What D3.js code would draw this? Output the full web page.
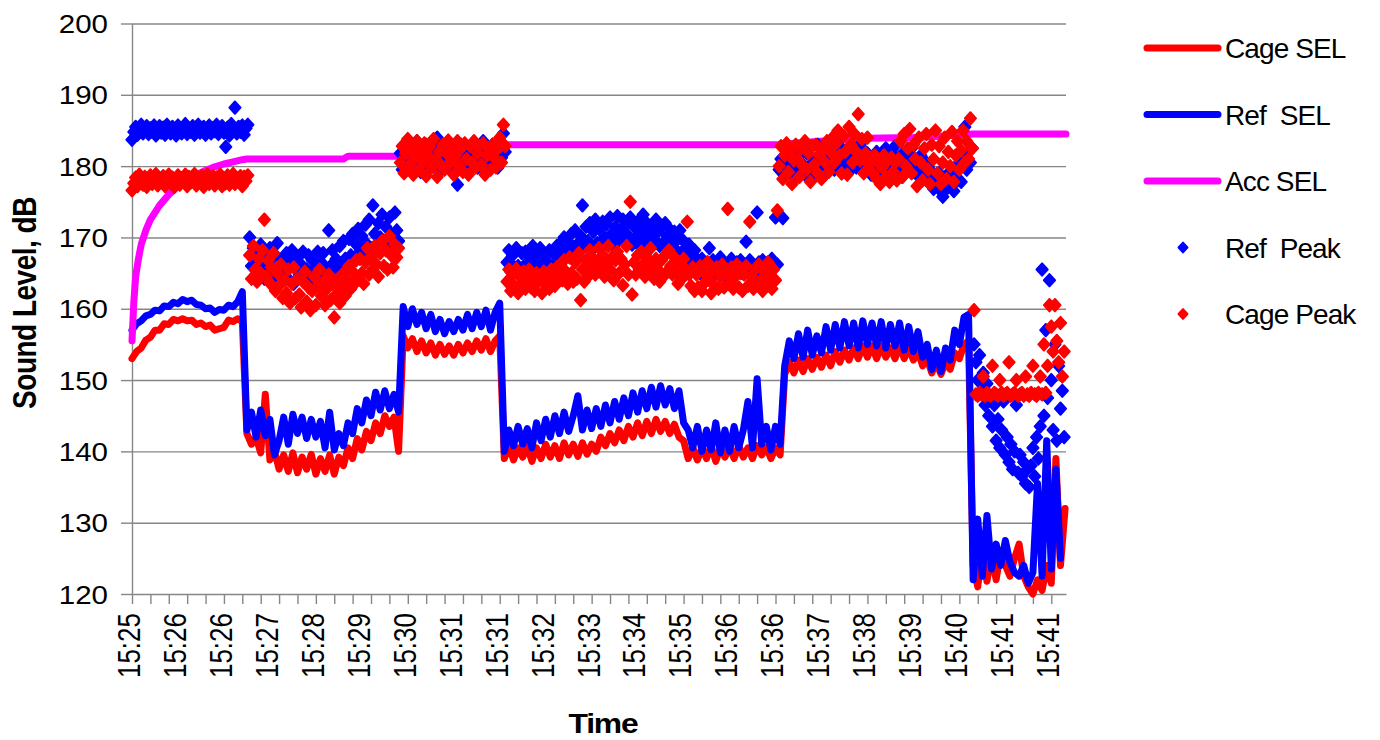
<!DOCTYPE html>
<html>
<head>
<meta charset="utf-8">
<script src="https://cdn.jsdelivr.net/npm/d3@7/dist/d3.min.js"></script>
<style>
  body { margin: 0; background: #fff; }
  text { font-family: Arial, "Liberation Sans", sans-serif; fill: #000; }
</style>
</head>
<body>
<div id="chart"></div>
<script>
// ---- data ----
// SEL lines: one value every 5 s
var selStep = 5;
var cageSel = [
  // 15:25 - 15:26
  153.0, 154.0, 154.5, 155.6, 156.0, 157.0, 157.0, 157.9, 157.8, 158.5, 158.3, 158.6, 158.3, 158.4, 157.8, 158.0, 157.5, 157.7, 157.0, 157.2, 157.4, 158.4, 158.2, 158.6, 158.2,
  // 15:27 - 15:29
  142.5, 141.0, 142.0, 139.8, 148.0, 138.8, 140.0, 137.5, 139.5, 137.2, 139.8, 137.0, 139.2, 137.5, 139.6, 136.8, 139.0,
  137.2, 139.5, 136.8, 139.2, 138.0, 140.5, 139.0, 141.8, 140.2, 142.8, 141.5, 144.0, 142.5, 145.0, 143.5, 144.8, 140.0,
  // 15:30 - 15:31
  156.2, 154.5, 155.8, 154.0, 155.5, 153.8, 155.2, 153.5, 155.0, 153.6, 154.8, 153.5, 155.0, 153.8, 155.2, 154.0, 155.5, 154.2, 155.8, 154.0, 155.5, 156.2,
  // 15:31 - 15:36
  139.0, 140.8, 138.8, 140.5, 139.2, 140.8, 138.6, 140.5, 139.0, 141.0, 139.2, 140.8, 139.0, 141.2, 139.5, 141.0, 139.3, 141.2, 139.6, 141.0,
  140.0, 142.0, 140.8, 142.5, 141.2, 143.0, 141.5, 143.5, 142.0, 144.0, 142.2, 144.2, 142.5, 144.5, 142.8, 144.2, 142.5, 143.8, 142.0, 141.5,
  139.0, 140.5, 138.8, 140.5, 139.0, 140.8, 138.6, 140.5, 139.2, 140.6, 139.0, 140.8, 139.2, 140.5, 139.0, 140.8, 139.5, 140.6, 139.0, 140.5, 139.5,
  // 15:36 - 15:40
  150.8, 152.5, 151.0, 152.8, 151.2, 153.0, 151.5, 153.2, 151.8, 153.5, 152.0, 154.0, 152.5, 154.2, 152.8, 154.5, 153.0, 154.8, 153.2, 154.8,
  153.0, 154.8, 153.2, 154.5, 153.0, 154.8, 153.0, 154.5, 152.8, 154.0, 152.0, 153.0, 151.0, 152.5, 150.8, 152.5, 151.5, 153.8, 153.0, 155.0, 155.5,
  // 15:40 - end
  124.0, 121.0, 126.5, 121.8, 125.5, 122.0, 126.0, 124.0, 122.5, 125.0, 127.0, 122.5, 121.0, 120.0, 122.0, 120.5, 124.0, 121.5, 139.0, 124.0, 132.0
];
var refSel = [
  157.0, 157.9, 158.3, 159.0, 159.2, 159.8, 159.7, 160.4, 160.3, 160.9, 160.7, 161.3, 161.0, 161.2, 160.6, 160.5, 160.0, 160.1, 159.5, 159.9, 159.8, 160.5, 160.3, 161.0, 162.4,
  143.0, 145.5, 142.0, 145.8, 142.2, 144.5, 139.5, 141.5, 144.8, 141.0, 145.2, 142.5, 144.8, 141.8, 144.5, 142.0, 144.2,
  140.5, 145.5, 140.2, 142.5, 140.8, 144.0, 142.5, 146.0, 144.0, 147.2, 145.0, 148.3, 145.8, 148.5, 146.0, 148.0, 145.5,
  160.3, 157.5, 160.0, 157.8, 159.5, 157.2, 159.2, 156.8, 158.5, 156.5, 158.2, 156.8, 158.5, 157.0, 159.2, 157.2, 159.5, 157.5, 159.8, 157.0, 159.5, 160.8,
  140.0, 143.0, 140.8, 143.5, 141.0, 143.2, 140.5, 144.0, 141.5, 144.5, 142.0, 145.0, 142.5, 145.5, 142.8, 145.0, 147.8, 143.0, 145.8, 143.2,
  146.0, 143.5, 146.5, 144.0, 147.0, 144.5, 147.5, 145.0, 148.2, 145.5, 148.5, 146.0, 149.0, 146.2, 149.2, 146.5, 148.8, 146.0, 148.5, 144.0,
  143.0, 140.5, 143.5, 140.0, 143.0, 140.2, 144.0, 139.8, 143.0, 140.0, 143.5, 140.5, 143.0, 147.0, 140.5, 150.2, 141.0, 143.5, 140.2, 143.5, 141.0,
  152.0, 155.5, 153.0, 156.5, 153.2, 157.0, 153.5, 156.2, 153.8, 157.5, 154.2, 157.8, 154.5, 158.2, 154.8, 158.0, 154.5, 158.3, 155.0, 158.0,
  154.8, 158.2, 154.5, 157.8, 154.8, 158.0, 154.2, 157.5, 154.0, 156.8, 153.2, 155.0, 151.5, 154.2, 151.2, 154.5, 152.8, 157.0, 155.0, 158.8, 159.2,
  122.0, 130.5, 122.5, 131.0, 123.5, 127.0, 124.0, 127.5, 124.5, 123.0, 122.5, 124.0, 121.5, 123.0, 135.5, 122.5, 141.5, 123.5, 137.5, 125.0, null
];
// accumulated SEL: seconds / dB
var accTime = [0, 2, 4, 7, 10, 15, 20, 30, 40, 50, 60, 70, 80, 90, 100, 110, 120, 125, 230, 235, 295, 320, 350, 380, 405, 705, 720, 760, 800, 850, 880, 900, 915, 1016];
var accSel  = [155.5, 161, 164.5, 167, 169, 171, 172.5, 174.5, 176, 177.2, 178.1, 178.8, 179.4, 179.9, 180.3, 180.6, 180.9, 181.0, 181.0, 181.4, 181.4, 181.9, 182.4, 182.8, 183.0, 183.0, 183.2, 183.6, 183.9, 184.0, 184.2, 184.4, 184.5, 184.5];

// peaks: one value every 2 s
var peakStep = 2;
var refPeak = [
  // 15:25 - 15:26
  183.7, 184.8, 185.5, 184.4, 185.2, 185.8, 184.6, 185.0, 185.6, 184.5,
  185.3, 184.8, 185.7, 184.3, 185.1, 185.6, 184.7, 185.4, 184.4, 185.8,
  185.0, 184.6, 185.5, 184.9, 184.3, 185.7, 185.2, 184.6, 185.4, 185.9,
  184.5, 185.1, 184.8, 185.6, 184.4, 185.3, 185.8, 184.7, 185.0, 185.5,
  184.4, 185.2, 185.7, 184.6, 185.3, 184.9, 185.8, 184.5, 185.1, 185.6,
  184.7, 182.7, 185.4, 184.3, 185.9, 185.0, 188.2, 184.6, 185.5, 184.8,
  185.7, 184.4, 185.3, 185.8,
  // 15:27 - 15:29
  170.0, 166.0, 168.5, 164.5, 167.2, 165.5, 169.0, 166.5, 164.2, 167.8,
  165.2, 168.5, 166.0, 164.0, 167.5, 169.2, 165.5, 163.8, 166.8, 165.0,
  167.8, 164.2, 166.5, 168.2, 163.5, 165.8, 167.2, 164.8, 166.2, 168.0,
  163.8, 165.5, 167.5, 164.5, 166.8, 163.2, 165.8, 168.0, 164.5, 166.5,
  167.8, 165.0, 163.5, 171.0, 166.0, 168.2, 164.8, 167.0, 165.5, 168.8,
  166.2, 169.5, 167.0, 165.8, 169.8, 167.5, 170.5, 166.8, 169.0, 171.2,
  168.0, 170.2, 167.5, 171.8, 169.0, 172.5, 168.5, 174.5, 170.5, 168.8,
  172.0, 170.0, 173.2, 169.2, 171.5, 168.5, 172.8, 170.5, 169.0, 173.5,
  171.0, 169.5,
  // 15:30 - 15:31
  181.8, 179.5, 182.8, 180.2, 183.2, 181.0, 179.8, 182.5, 180.5, 183.5,
  181.2, 179.2, 182.0, 180.8, 183.0, 179.6, 181.5, 182.8, 180.0, 182.2,
  184.0, 180.5, 179.5, 182.5, 181.2, 183.2, 179.8, 181.8, 180.2, 182.8,
  180.0, 177.4, 181.5, 183.0, 179.5, 182.2, 180.8, 179.2, 182.5, 181.0,
  183.2, 180.2, 179.8, 182.0, 181.5, 183.5, 180.5, 182.8, 179.5, 181.8,
  183.0, 180.8, 182.2, 179.8, 183.2, 181.2, 184.6, 182.0,
  // 15:31 - 15:36
  166.5, 168.2, 165.2, 167.5, 165.8, 168.5, 166.0, 164.8, 167.8, 165.5,
  168.0, 166.5, 165.0, 167.2, 168.8, 165.8, 167.5, 166.2, 168.5, 165.2,
  167.0, 164.8, 166.5, 168.2, 165.5, 167.8, 166.2, 168.8, 167.0, 169.2,
  167.8, 170.0, 168.2, 169.5, 167.5, 170.5, 168.5, 171.0, 169.0, 167.8,
  170.2, 174.5, 168.8, 171.5, 169.5, 172.0, 168.2, 170.8, 172.5, 169.2,
  171.2, 168.5, 172.2, 170.0, 171.8, 169.0, 172.8, 170.5, 168.8, 171.5,
  173.0, 169.8, 171.0, 172.5, 169.5, 171.8, 170.2, 172.8, 169.0, 171.5,
  170.0, 172.2, 168.8, 171.0, 173.2, 169.5, 172.0, 170.5, 168.5, 171.2,
  169.8, 172.5, 170.8, 168.8, 171.5, 169.2, 172.0, 170.2, 168.5, 171.0,
  169.5, 170.8, 168.2, 169.8, 171.0, 167.8, 169.5, 168.5, 167.2, 169.0,
  167.5, 166.0, 168.2, 165.5, 166.8, 165.0, 167.0, 165.8, 164.8, 166.5,
  168.5, 165.2, 166.8, 164.8, 166.2, 165.5, 167.2, 165.0, 166.5, 164.6,
  166.0, 165.2, 167.0, 165.8, 164.8, 166.5, 165.2, 166.8, 165.0, 166.2,
  169.4, 165.5, 166.8, 164.8, 166.0, 165.2, 173.5, 166.5, 165.0, 166.8,
  165.5, 164.8, 166.5, 165.2, 167.0, 165.8, 172.8, 166.2,
  // 15:36 - 15:40
  179.5, 181.0, 172.7, 180.5, 178.8, 181.5, 179.2, 182.0, 180.0, 178.5,
  181.2, 179.5, 182.2, 180.2, 178.8, 181.8, 179.5, 182.5, 180.5, 178.5,
  181.0, 183.0, 179.8, 182.2, 180.5, 178.8, 181.5, 183.2, 180.0, 182.5,
  179.5, 181.8, 180.2, 182.8, 179.0, 181.2, 180.0, 182.0, 179.2, 181.5,
  180.2, 182.5, 179.8, 181.0, 183.0, 180.2, 182.2, 179.5, 181.8, 180.5,
  178.8, 181.2, 179.5, 182.0, 180.5, 178.5, 181.5, 179.8, 182.5, 180.0,
  178.8, 181.8, 180.2, 182.8, 179.5, 181.2, 180.5, 178.5, 182.0, 179.8,
  181.5, 180.0, 182.5, 179.2, 181.0, 180.2, 178.5, 181.5, 179.0, 180.8,
  178.2, 180.0, 177.5, 179.2, 176.8, 178.5, 177.2, 179.0, 176.5, 175.7,
  178.0, 176.8, 179.0, 177.5, 178.8, 176.5, 179.5, 178.0, 180.5, 177.8,
  181.0, 185.5, 179.5, 182.0, 180.5, 182.5,
  // 15:40 - end
  155.0, 152.5, 150.0, 153.5, 148.5, 151.0, 146.5, 149.5, 145.0, 147.5,
  143.5, 146.5, 141.5, 144.5, 140.5, 143.0, 147.0, 139.5, 142.0, 138.5,
  141.0, 137.5, 140.0, 146.5, 137.0, 139.5, 136.5, 138.5, 135.5, 137.5,
  135.0, 138.0, 140.5, 136.5, 142.0, 139.0, 143.5, 165.5, 145.0, 157.0,
  147.5, 164.0, 150.0, 143.0, 155.0, 141.5, 152.0, 146.0, 148.5, 142.0
];
var cagePeak = [
  176.6, 177.6, 178.4, 177.2, 178.8, 177.9, 177.4, 178.5, 177.1, 178.2,
  178.7, 177.5, 178.0, 178.9, 177.3, 178.3, 177.8, 178.6, 177.2, 178.1,
  178.8, 177.6, 178.4, 177.1, 178.0, 178.7, 177.4, 178.3, 177.9, 178.8,
  177.2, 178.5, 177.7, 178.1, 178.9, 177.3, 178.4, 177.8, 178.6, 177.1,
  178.2, 178.8, 177.5, 178.0, 178.6, 177.3, 178.4, 177.9, 178.8, 177.2,
  178.3, 177.6, 178.7, 177.4, 178.1, 178.9, 177.5, 178.3, 177.8, 178.6,
  177.2, 178.5, 177.9, 178.7,
  167.5, 164.2, 168.8, 165.5, 163.8, 167.0, 165.0, 168.2, 172.5, 164.5,
  166.8, 163.6, 165.8, 167.8, 162.5, 165.0, 163.2, 166.2, 161.5, 164.0,
  162.2, 165.5, 160.8, 163.5, 165.8, 161.5, 164.2, 162.0, 160.2, 163.8,
  165.2, 161.0, 163.0, 159.8, 162.5, 164.5, 160.5, 163.2, 165.5, 161.8,
  163.8, 160.5, 162.8, 164.8, 161.2, 163.5, 158.8, 162.0, 164.2, 160.8,
  163.0, 165.0, 161.8, 164.0, 166.0, 162.8, 165.2, 163.5, 166.8, 164.2,
  167.0, 165.0, 163.5, 166.5, 168.5, 164.8, 167.2, 165.5, 168.8, 166.2,
  164.5, 167.8, 169.5, 166.0, 168.2, 165.5, 170.2, 167.5, 165.8, 169.0,
  167.2, 168.5,
  180.5, 182.8, 179.0, 181.8, 183.8, 180.2, 182.5, 178.8, 181.2, 183.5,
  179.5, 182.2, 180.5, 183.2, 178.6, 181.5, 182.8, 179.8, 183.8, 180.8,
  178.5, 182.0, 180.2, 183.0, 179.5, 181.8, 183.6, 180.5, 182.2, 178.8,
  181.5, 183.5, 180.0, 182.5, 179.2, 183.2, 181.0, 178.8, 182.8, 180.5,
  183.5, 179.8, 181.8, 182.8, 180.2, 183.2, 178.8, 181.5, 182.5, 179.5,
  183.0, 181.2, 179.8, 182.5, 184.0, 180.5, 185.8, 182.8,
  163.8, 165.5, 162.5, 164.8, 163.2, 165.6, 162.2, 164.5, 163.5, 165.2,
  162.8, 164.2, 165.5, 163.0, 164.8, 162.5, 165.0, 163.8, 164.5, 162.2,
  165.2, 163.5, 164.8, 162.8, 165.5, 164.0, 163.2, 165.8, 164.5, 166.2,
  164.0, 166.8, 165.2, 163.5, 167.2, 165.0, 163.8, 166.5, 164.2, 167.8,
  161.2, 165.5, 163.8, 166.8, 164.5, 168.2, 165.8, 167.0, 164.8, 166.5,
  168.5, 165.2, 167.5, 164.5, 166.2, 168.8, 165.5, 167.2, 164.0, 166.8,
  168.0, 165.0, 167.0, 163.3, 166.2, 168.8, 164.8, 175.0, 162.0, 166.5,
  164.8, 167.5, 165.5, 168.0, 166.2, 164.5, 167.2, 165.0, 168.5, 166.0,
  164.2, 167.0, 165.5, 163.8, 166.8, 164.5, 167.5, 165.2, 168.2, 166.0,
  164.8, 167.2, 165.0, 163.5, 166.5, 164.2, 167.0, 165.5, 172.2, 164.8,
  163.2, 165.8, 162.5, 164.8, 163.0, 166.0, 162.5, 165.2, 163.8, 166.5,
  164.0, 162.2, 165.5, 163.2, 165.8, 162.8, 164.5, 166.2, 163.0, 165.0,
  174.0, 163.5, 165.8, 162.8, 164.5, 166.2, 163.0, 165.0, 162.5, 164.8,
  166.0, 163.2, 172.2, 164.5, 162.8, 165.5, 163.5, 166.2, 164.0, 162.5,
  165.2, 163.8, 166.5, 164.2, 162.8, 165.5, 164.0, 173.8,
  180.0, 182.8, 178.2, 181.5, 183.2, 179.2, 182.0, 177.5, 180.8, 183.0,
  181.0, 178.5, 182.5, 180.0, 183.5, 179.5, 181.8, 177.8, 182.8, 180.2,
  183.0, 179.0, 181.5, 178.2, 182.2, 180.5, 183.5, 179.2, 182.0, 184.0,
  180.5, 183.2, 185.0, 181.5, 179.0, 184.2, 182.0, 178.8, 185.5, 183.0,
  180.5, 184.5, 182.0, 187.3, 180.8, 183.8, 179.0, 181.8, 184.0, 180.2,
  181.2, 179.0, 181.5, 178.2, 180.5, 177.5, 179.8, 181.5, 178.5, 180.8,
  177.8, 181.2, 179.2, 180.5, 178.0, 181.0, 183.5, 178.5, 184.5, 180.0,
  182.5, 185.2, 179.0, 183.0, 181.0, 177.2, 184.0, 180.5, 178.0, 182.5,
  184.5, 179.5, 177.5, 183.0, 181.0, 185.0, 179.0, 182.8, 177.5, 180.5,
  184.0, 178.2, 182.0, 180.0, 184.8, 177.8, 181.5, 183.5, 179.5, 182.2,
  185.0, 180.5, 183.5, 181.0, 186.7, 182.5,
  159.8, 148.0, 147.8, 148.2, 148.0, 150.5, 147.8, 148.2, 148.0, 147.8,
  152.0, 148.2, 148.0, 147.8, 150.0, 148.2, 147.8, 148.0, 148.2, 152.5,
  147.8, 148.0, 148.2, 150.0, 147.8, 148.0, 148.2, 147.8, 150.5, 148.0,
  147.8, 148.2, 152.0, 148.0, 147.8, 148.2, 150.5, 148.0, 155.0, 148.2,
  152.0, 160.5, 157.5, 154.0, 160.5, 155.5, 152.5, 158.0, 150.5, 154.0
];

var yTicks = [120, 130, 140, 150, 160, 170, 180, 190, 200];
var tickLabels = ["15:25", "15:26", "15:26", "15:27", "15:28", "15:29", "15:30", "15:31", "15:31", "15:32", "15:33",
                  "15:34", "15:35", "15:36", "15:36", "15:37", "15:38", "15:39", "15:40", "15:41", "15:41"];
var labelStep = 50;   // seconds between time labels
var tickStep = 20;    // seconds between tick marks
var legendNames = ["Cage SEL", "Ref  SEL", "Acc SEL", "Ref  Peak", "Cage Peak"];

// ---- layout ----
var svgWidth = 1380;
var svgHeight = 740;
var margin = { top: 23.5, right: 314, bottom: 146, left: 132 };
var width = svgWidth - margin.left - margin.right;
var height = svgHeight - margin.top - margin.bottom;
var stretch = 1.18; // text in the picture is a bit wide

var svg = d3.select("#chart")
  .append("svg")
  .attr("width", svgWidth)
  .attr("height", svgHeight);

var chartGroup = svg.append("g")
  .attr("transform", `translate(${margin.left}, ${margin.top})`);

var xScale = d3.scaleLinear().domain([0, 1016]).range([0, width]);
var yScale = d3.scaleLinear().domain([120, 200]).range([height, 0]);

var gridColor = "#868686";

// gridlines
chartGroup.append("g")
  .call(d3.axisLeft(yScale).tickValues(yTicks.slice(1)).tickSize(-width).tickFormat(""))
  .call(g => g.select(".domain").remove())
  .selectAll("line")
  .attr("stroke", gridColor)
  .attr("stroke-width", 1.4);

// y axis
var yAxis = chartGroup.append("g")
  .call(d3.axisLeft(yScale).tickValues(yTicks).tickSize(11).tickSizeOuter(0).tickPadding(0));
yAxis.select(".domain").attr("stroke", gridColor).attr("stroke-width", 1.4);
yAxis.selectAll(".tick line").attr("stroke", gridColor).attr("stroke-width", 1.4);
yAxis.selectAll(".tick text")
  .attr("font-size", 25)
  .attr("x", -24 / stretch)
  .attr("dy", "0.36em")
  .attr("transform", `scale(${stretch},1)`);

// x axis tick marks
var tickTimes = d3.range(0, 1000 + 1, tickStep);
var xAxis = chartGroup.append("g")
  .attr("transform", `translate(0, ${height})`)
  .call(d3.axisBottom(xScale).tickValues(tickTimes).tickSize(10).tickSizeOuter(0).tickFormat(""));
xAxis.select(".domain").attr("stroke", gridColor).attr("stroke-width", 1.4);
xAxis.selectAll(".tick line").attr("stroke", gridColor).attr("stroke-width", 1.4);

// x axis labels
var labelTimes = tickLabels.map((d, i) => i * labelStep);
var xLabels = chartGroup.append("g")
  .attr("transform", `translate(0, ${height})`)
  .call(d3.axisBottom(xScale).tickValues(labelTimes).tickSize(0)
    .tickFormat((d, i) => tickLabels[i]));
xLabels.select(".domain").remove();
xLabels.selectAll(".tick text")
  .attr("font-size", 26)
  .attr("text-anchor", "end")
  .attr("x", 0)
  .attr("y", 0)
  .attr("dy", "0.24em")
  .attr("transform", `translate(0, 19) scale(${stretch},1) rotate(-90)`);

// lines
var selLine = d3.line()
  .defined(d => d != null)
  .x((d, i) => xScale(i * selStep))
  .y(d => yScale(d));

function drawLine(values, color) {
  chartGroup.append("path")
    .datum(values)
    .attr("fill", "none")
    .attr("stroke", color)
    .attr("stroke-width", 7)
    .attr("stroke-linejoin", "round")
    .attr("stroke-linecap", "round")
    .attr("d", selLine);
}
drawLine(cageSel, "#ff0000");
drawLine(refSel, "#0000ff");

var accLine = d3.line()
  .x((d, i) => xScale(accTime[i]))
  .y(d => yScale(d));
chartGroup.append("path")
  .datum(accSel)
  .attr("fill", "none")
  .attr("stroke", "#ff00ff")
  .attr("stroke-width", 7)
  .attr("stroke-linejoin", "round")
  .attr("stroke-linecap", "round")
  .attr("d", accLine);

// diamond markers
var diamond = {
  draw: function(context, size) {
    var w = Math.sqrt(size) * 0.5, h = w * 1.1;
    context.moveTo(0, -h);
    context.lineTo(w, 0);
    context.lineTo(0, h);
    context.lineTo(-w, 0);
    context.closePath();
  }
};
var marker = d3.symbol().type(diamond).size(125);

function drawPeaks(values, color) {
  chartGroup.append("g")
    .selectAll("path")
    .data(values)
    .enter()
    .append("path")
    .attr("transform", (d, i) => `translate(${xScale(i * peakStep)}, ${yScale(d)})`)
    .attr("d", marker)
    .attr("fill", color)
    .attr("stroke", color)
    .attr("stroke-width", 2)
    .attr("stroke-linejoin", "round");
}
drawPeaks(refPeak, "#0000ff");
drawPeaks(cagePeak, "#ff0000");

// axis titles
svg.append("text")
  .attr("transform", `translate(36, 303) scale(${stretch},1) rotate(-90)`)
  .attr("text-anchor", "middle")
  .attr("font-size", 28)
  .attr("font-weight", "bold")
  .attr("letter-spacing", -0.5)
  .text("Sound Level, dB");

svg.append("text")
  .attr("transform", `translate(603, 733) scale(${stretch},1)`)
  .attr("text-anchor", "middle")
  .attr("font-size", 27)
  .attr("font-weight", "bold")
  .attr("letter-spacing", -1)
  .text("Time");

// legend
var legendColors = ["#ff0000", "#0000ff", "#ff00ff", "#0000ff", "#ff0000"];
var legend = svg.append("g").attr("transform", "translate(1147, 48)");
legendNames.forEach(function(name, i) {
  var row = legend.append("g").attr("transform", `translate(0, ${i * 66.5})`);
  if (i < 3) {
    row.append("line")
      .attr("x1", 0).attr("x2", 71)
      .attr("stroke", legendColors[i])
      .attr("stroke-width", 7)
      .attr("stroke-linecap", "round");
  } else {
    row.append("path")
      .attr("transform", "translate(36, 0)")
      .attr("d", d3.symbol().type(diamond).size(80))
      .attr("fill", legendColors[i])
      .attr("stroke", legendColors[i])
      .attr("stroke-width", 2)
      .attr("stroke-linejoin", "round");
  }
  row.append("text")
    .attr("x", 78)
    .attr("dy", "0.36em")
    .attr("font-size", 28)
    .attr("letter-spacing", -0.9)
    .style("white-space", "pre")
    .text(name);
});
</script>
</body>
</html>
